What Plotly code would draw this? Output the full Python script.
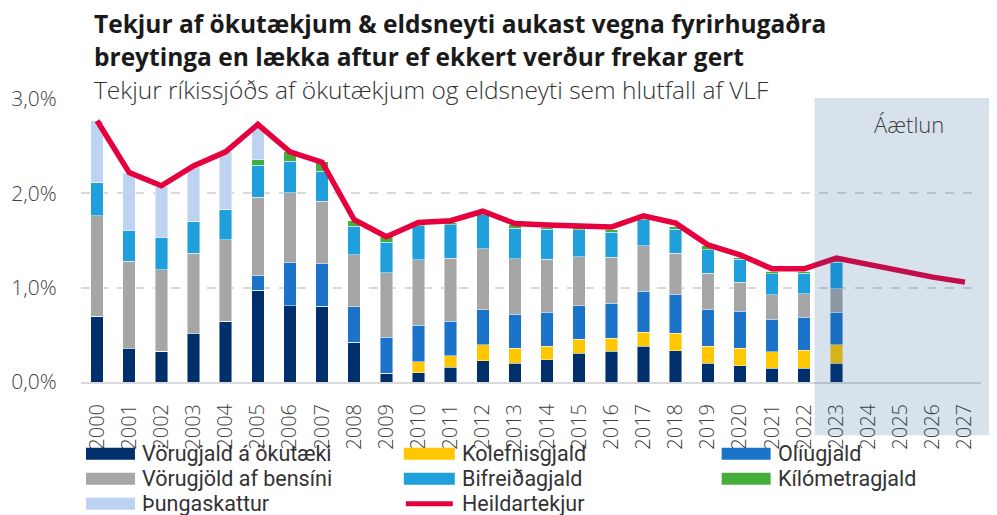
import plotly.graph_objects as go

years = list(range(2000, 2028))
bar_years = list(range(2000, 2024))

vorugjald_okutaeki = [0.695, 0.35, 0.325, 0.512, 0.642, 0.971, 0.811, 0.801, 0.42, 0.091, 0.098, 0.159,
                      0.226, 0.201, 0.236, 0.307, 0.324, 0.377, 0.332, 0.201, 0.173, 0.144, 0.144, 0.197]
kolefnisgjald = [0, 0, 0, 0, 0, 0, 0, 0, 0, 0, 0.117, 0.12, 0.169, 0.155, 0.145, 0.144, 0.142, 0.148,
                 0.187, 0.176, 0.187, 0.177, 0.191, 0.198]
oliugjald = [0, 0, 0, 0, 0, 0.158, 0.46, 0.455, 0.378, 0.382, 0.385, 0.363, 0.371, 0.36, 0.356, 0.36,
             0.367, 0.435, 0.409, 0.389, 0.388, 0.342, 0.349, 0.346]
vorugjold_bensini = [1.067, 0.928, 0.865, 0.854, 0.866, 0.827, 0.734, 0.661, 0.551, 0.685, 0.696, 0.668,
                     0.646, 0.59, 0.566, 0.516, 0.487, 0.484, 0.438, 0.389, 0.307, 0.262, 0.251, 0.247]
bifreidagjald = [0.357, 0.325, 0.339, 0.336, 0.325, 0.343, 0.336, 0.318, 0.30, 0.321, 0.36, 0.356, 0.36,
                 0.325, 0.318, 0.286, 0.265, 0.275, 0.255, 0.246, 0.248, 0.225, 0.22, 0.279]
kilometragjald = [0, 0, 0, 0, 0, 0.059, 0.099, 0.099, 0.06, 0.063, 0.028, 0.02, 0.015, 0.035, 0.02, 0.02,
                  0.028, 0.02, 0.028, 0.043, 0.021, 0.022, 0.017, 0.02]
thungaskattur = [0.652, 0.611, 0.543, 0.575, 0.61, 0.352, 0, 0, 0, 0, 0, 0, 0, 0, 0, 0, 0, 0, 0, 0, 0, 0, 0, 0]
heildartekjur = [2.77, 2.22, 2.08, 2.29, 2.44, 2.73, 2.44, 2.33, 1.72, 1.54, 1.69, 1.71, 1.81, 1.68, 1.665,
                 1.656, 1.642, 1.762, 1.684, 1.455, 1.348, 1.2, 1.2, 1.313, 1.243, 1.176, 1.112, 1.059]

y_ticks = [0, 1, 2, 3]
y_ticklabels = ["0,0%", "1,0%", "2,0%", "3,0%"]

series = [
    ("Vörugjald á ökutæki", vorugjald_okutaeki, "#00306B"),
    ("Kolefnisgjald", kolefnisgjald, "#FFC700"),
    ("Olíugjald", oliugjald, "#1B74CA"),
    ("Vörugjöld af bensíni", vorugjold_bensini, "#A6A6A6"),
    ("Bifreiðagjald", bifreidagjald, "#1FA0DC"),
    ("Kílómetragjald", kilometragjald, "#45AE3B"),
    ("Þungaskattur", thungaskattur, "#BED3F1"),
]
line_name = "Heildartekjur"
line_color = "#E6003D"

# page has an 8px body margin: figure coordinates = reference pixel - OFF
OFF = 8
W, H = 997 - OFF, 515 - OFF
plot_left, plot_right, plot_top, plot_bottom = 81, 981.5, 99.3, 382.3
L = plot_left - OFF
R = W - (plot_right - OFF)
T = plot_top - OFF
B = H - (plot_bottom - OFF)
PW = plot_right - plot_left
PH = plot_bottom - plot_top


def px(xp):
    return (xp - plot_left) / PW


def py(yp):
    return (plot_bottom - yp) / PH


fig = go.Figure()
for name, vals, col in series:
    fig.add_trace(go.Bar(x=bar_years, y=vals, name=name, marker_color=col,
                         marker_line=dict(width=0.8, color="rgba(255,255,255,0.55)"),
                         width=0.39, showlegend=False))
fig.add_trace(go.Scatter(x=years, y=heildartekjur, name=line_name, mode="lines",
                         line=dict(color=line_color, width=5.5), showlegend=False))

font_main = "Open Sans"
font_leg = "Roboto"
shapes = []
annotations = []

# forecast shading
shapes.append(dict(type="rect", xref="paper", yref="paper", x0=px(815), x1=px(1000),
                   y0=py(435.5), y1=py(98.3), fillcolor="rgba(15,85,150,0.17)",
                   line=dict(width=0), layer="above"))

# manual legend
cols_sw = [(86, 135), (404, 455), (722, 771)]
rows_y = [454, 479, 504]
items = [s for s in series] + [(line_name, None, line_color)]
for i, (name, vals, col) in enumerate(items):
    r, c = divmod(i, 3)
    x0, x1 = cols_sw[c]
    yc = rows_y[r]
    if vals is None:
        shapes.append(dict(type="line", xref="paper", yref="paper", x0=px(x0 + 2), x1=px(x1 - 2),
                           y0=py(yc), y1=py(yc), line=dict(color=col, width=5)))
    else:
        shapes.append(dict(type="rect", xref="paper", yref="paper", x0=px(x0), x1=px(x1),
                           y0=py(yc + 6), y1=py(yc - 6), fillcolor=col, line=dict(width=0)))
    annotations.append(dict(xref="paper", yref="paper", x=px(x1 + 5), y=py(yc), text=name,
                            showarrow=False, xanchor="left", yanchor="middle",
                            font=dict(family=font_leg, size=21.5, color="#333333")))

# titles
annotations.append(dict(xref="paper", yref="paper", x=px(93), y=py(24), borderpad=0,
                        text="<b>Tekjur af ökutækjum & eldsneyti aukast vegna fyrirhugaðra</b>",
                        showarrow=False, xanchor="left", yanchor="middle",
                        font=dict(family=font_main, size=24.5, color="#1a1a1a")))
annotations.append(dict(xref="paper", yref="paper", x=px(93), y=py(56.5), borderpad=0,
                        text="<b>breytinga en lækka aftur ef ekkert verður frekar gert</b>",
                        showarrow=False, xanchor="left", yanchor="middle",
                        font=dict(family=font_main, size=24.5, color="#1a1a1a")))
annotations.append(dict(xref="paper", yref="paper", x=px(93), y=py(89.5), borderpad=0,
                        text="Tekjur ríkissjóðs af ökutækjum og eldsneyti sem hlutfall af VLF",
                        showarrow=False, xanchor="left", yanchor="middle",
                        font=dict(family=font_main, size=24.5, color="#333333", weight=300)))
annotations.append(dict(xref="paper", yref="paper", x=px(909), y=py(124), text="Áætlun",
                        showarrow=False, xanchor="center", yanchor="middle",
                        font=dict(family=font_main, size=22, color="#404040", weight=300)))

fig.update_layout(
    width=W, height=H, barmode="stack", bargap=0.6,
    margin=dict(l=L, r=R, t=T, b=B, autoexpand=False),
    plot_bgcolor="white", paper_bgcolor="white",
    shapes=shapes, annotations=annotations, showlegend=False,
    xaxis=dict(range=[1999.5, 2027.5], tickmode="array", tickvals=years,
               ticktext=[str(y) for y in years], tickangle=-90,
               ticks="outside", ticklen=12, tickcolor="rgba(0,0,0,0)",
               tickfont=dict(family=font_main, size=20, color="#404040", weight=300),
               showgrid=False, showline=True, linecolor="#D9D9D9", linewidth=2, zeroline=False),
    yaxis=dict(range=[0, 3.0], tickmode="array", tickvals=y_ticks, ticktext=y_ticklabels,
               ticks="outside", ticklen=19, tickcolor="rgba(0,0,0,0)",
               tickfont=dict(family=font_main, size=21, color="#404040", weight=300),
               showgrid=True, gridcolor="#D9D9D9", griddash="dash", gridwidth=1.5,
               zeroline=False, showline=False),
)

fig.write_html("out.html")
